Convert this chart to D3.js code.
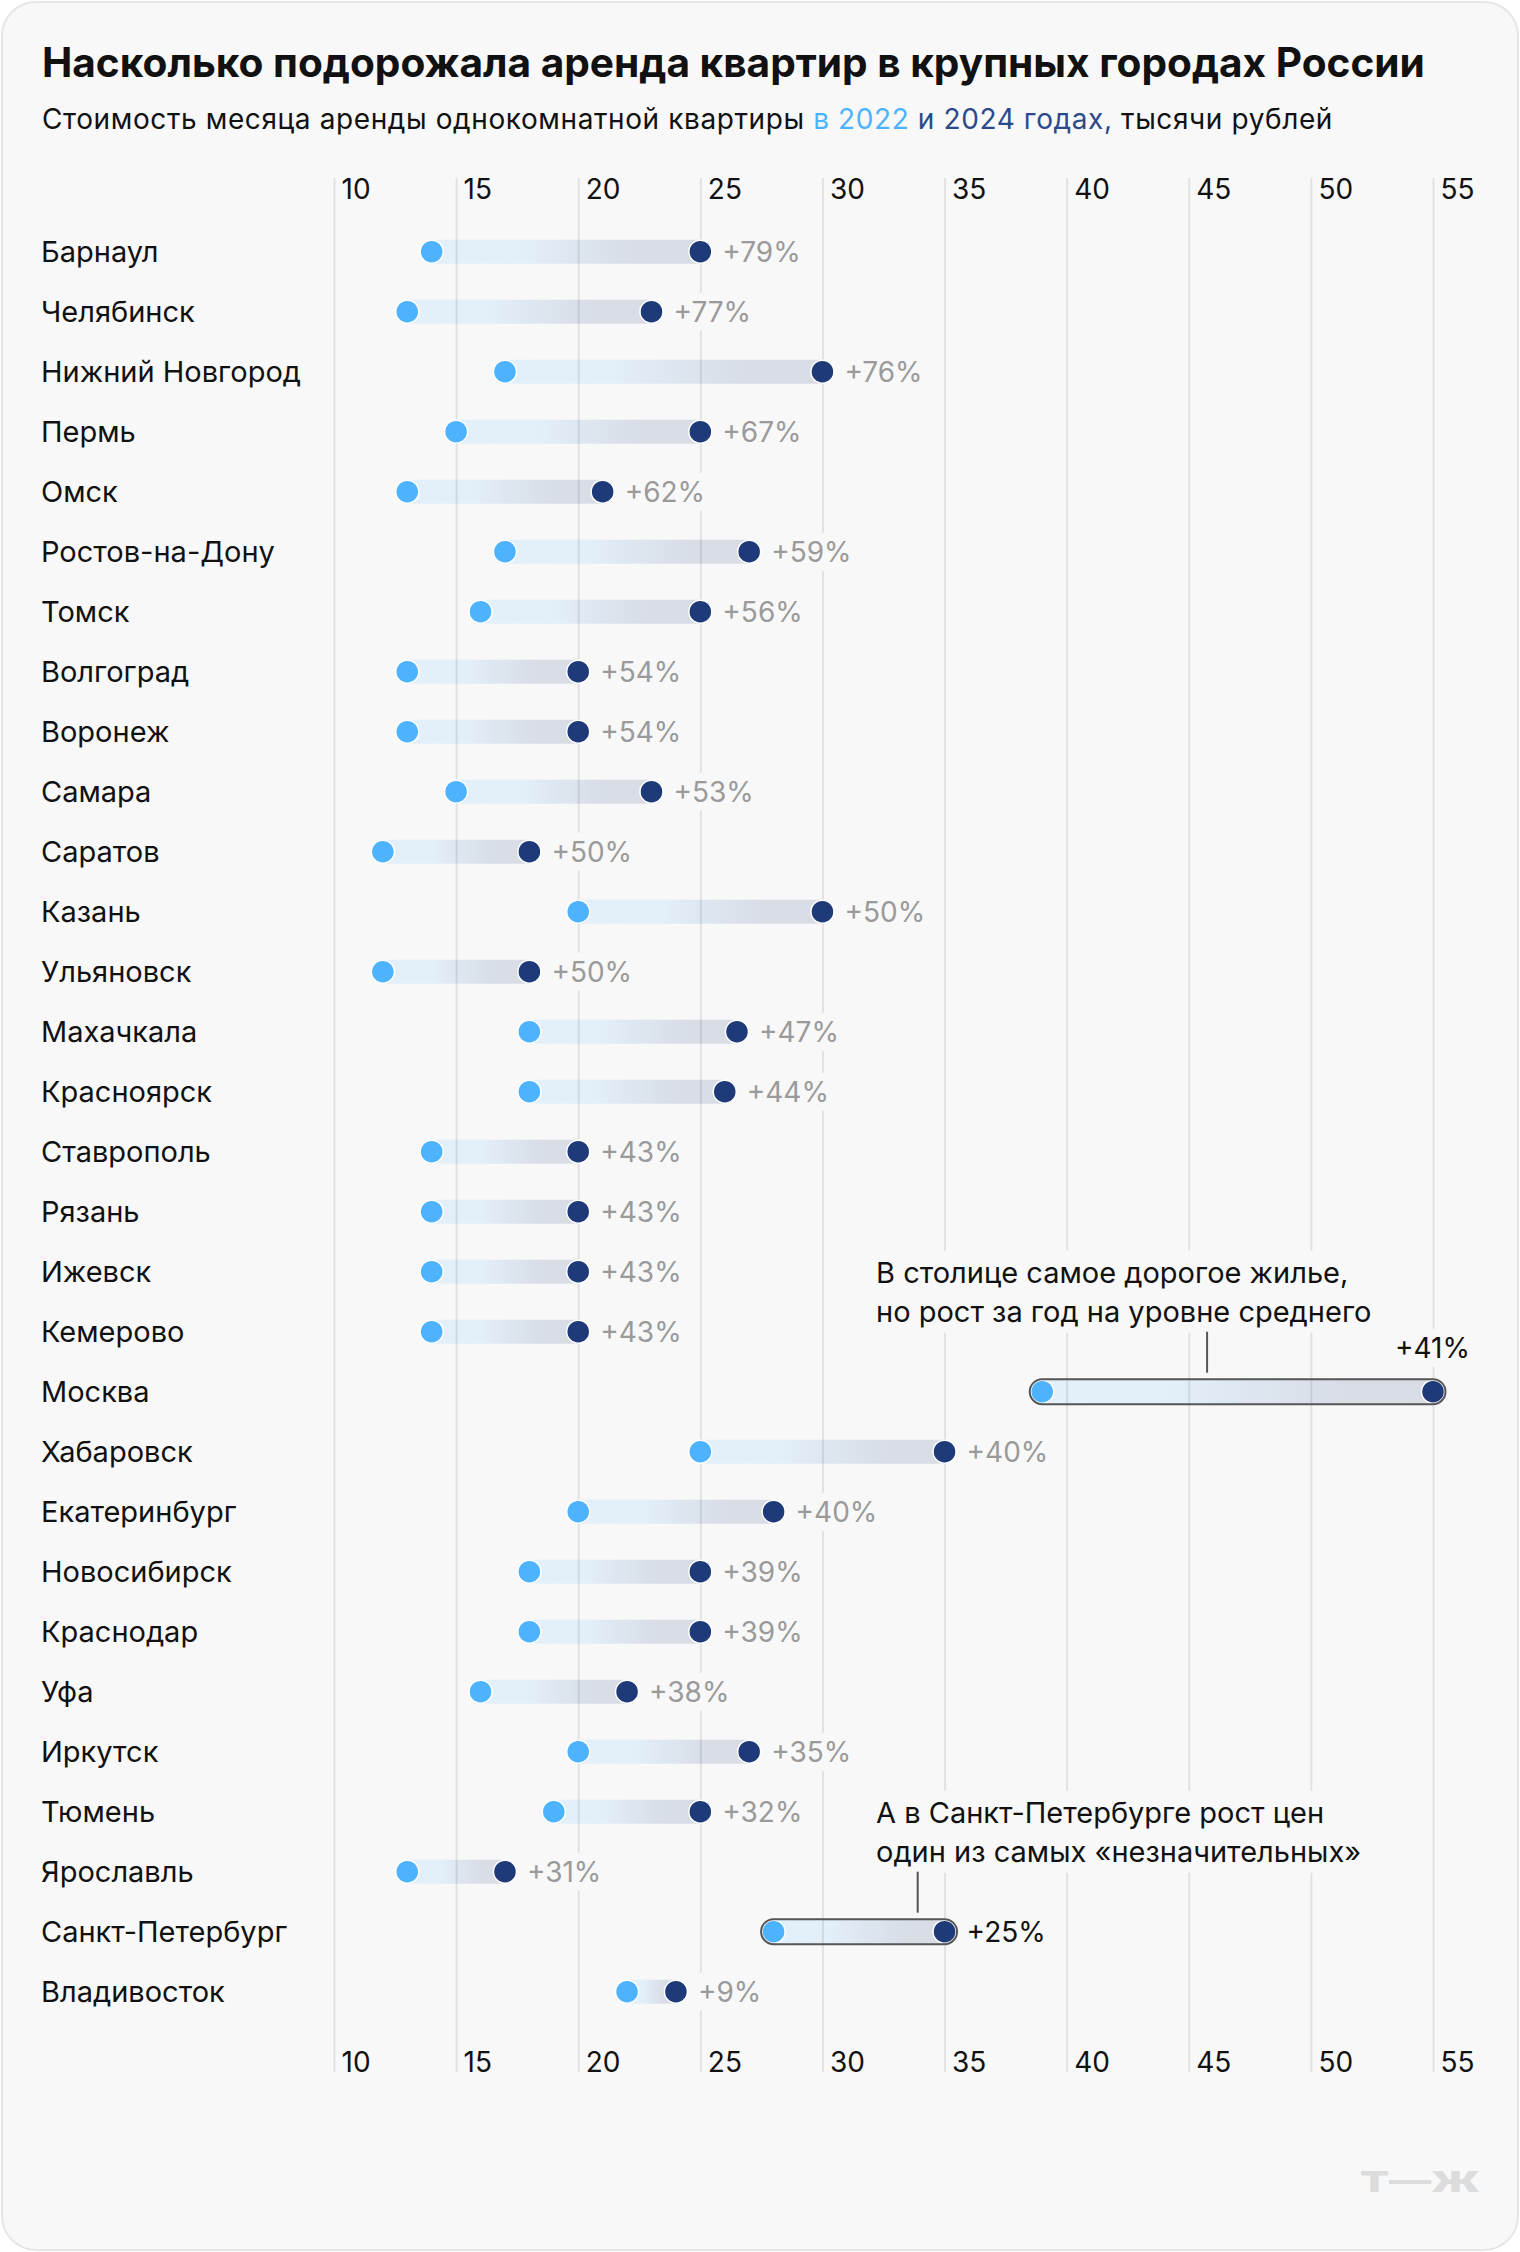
<!DOCTYPE html>
<html>
<head>
<meta charset="utf-8">
<script src="https://cdn.jsdelivr.net/npm/d3@7"></script>
<style>
  html, body { margin: 0; padding: 0; background: #ffffff; }
  svg { display: block; font-family: Inter, Roboto, "Noto Sans", sans-serif; }
</style>
</head>
<body>
<div class="svg-container"></div>
<script>
// chart data (thousand rubles per month)
const cities = ['Барнаул', 'Челябинск', 'Нижний Новгород', 'Пермь', 'Омск', 'Ростов-на-Дону', 'Томск',
  'Волгоград', 'Воронеж', 'Самара', 'Саратов', 'Казань', 'Ульяновск', 'Махачкала', 'Красноярск',
  'Ставрополь', 'Рязань', 'Ижевск', 'Кемерово', 'Москва', 'Хабаровск', 'Екатеринбург', 'Новосибирск',
  'Краснодар', 'Уфа', 'Иркутск', 'Тюмень', 'Ярославль', 'Санкт-Петербург', 'Владивосток'];
const rent2022 = [14, 13, 17, 15, 13, 17, 16, 13, 13, 15, 12, 20, 12, 18, 18, 14, 14, 14, 14, 39, 25, 20, 18, 18, 16, 20, 19, 13, 28, 22];
const rent2024 = [25, 23, 30, 25, 21, 27, 25, 20, 20, 23, 18, 30, 18, 26.5, 26, 20, 20, 20, 20, 55, 35, 28, 25, 25, 22, 27, 25, 17, 35, 24];
const growth = ['+79%', '+77%', '+76%', '+67%', '+62%', '+59%', '+56%', '+54%', '+54%', '+53%', '+50%', '+50%', '+50%',
  '+47%', '+44%', '+43%', '+43%', '+43%', '+43%', '+41%', '+40%', '+40%', '+39%', '+39%', '+38%', '+35%', '+32%',
  '+31%', '+25%', '+9%'];
const tickValues = [10, 15, 20, 25, 30, 35, 40, 45, 50, 55];
const highlighted = ['Москва', 'Санкт-Петербург'];

const title = 'Насколько подорожала аренда квартир в крупных городах России';
const notes = [
  { city: 'Москва', at: 45.75, lines: ['В столице самое дорогое жилье,', 'но рост за год на уровне среднего'] },
  { city: 'Санкт-Петербург', at: 33.9, lines: ['А в Санкт-Петербурге рост цен', 'один из самых «незначительных»'] }
];

const rows = cities.map((c, i) => ({ city: c, a: rent2022[i], b: rent2024[i], pct: growth[i], hl: highlighted.includes(c) }));

//sizes
const W = 1520, H = 2252;
const bg = '#f8f8f8';
const light = '#4db3ff', dark = '#1e3a78';
const r = 11.5;
const gridTop = 178, gridBottom = 2072;

const svg = d3.select('.svg-container').append('svg')
  .attr('width', W).attr('height', H);

const defs = svg.append('defs');
const grad = defs.append('linearGradient').attr('id', 'bar-grad');
grad.append('stop').attr('offset', '0%').attr('stop-color', '#e3f0fa');
grad.append('stop').attr('offset', '35%').attr('stop-color', '#e2eef8');
grad.append('stop').attr('offset', '75%').attr('stop-color', '#d8dde6');
grad.append('stop').attr('offset', '100%').attr('stop-color', '#d7dce5');

// card
svg.append('rect')
  .attr('x', 2).attr('y', 2).attr('width', W - 4).attr('height', H - 4)
  .attr('rx', 34)
  .attr('fill', bg).attr('stroke', '#e6e6e6').attr('stroke-width', 2);

// title + subtitle
svg.append('text')
  .attr('x', 42).attr('y', 77)
  .attr('font-size', 40.6).attr('font-weight', 700).attr('fill', '#111')
  .text(title);

const sub = svg.append('text')
  .attr('x', 42).attr('y', 129)
  .attr('font-size', 28).attr('fill', '#111')
  .attr('letter-spacing', 0.6);
sub.append('tspan').text('Стоимость месяца аренды однокомнатной квартиры ');
sub.append('tspan').attr('fill', light).text('в 2022');
sub.append('tspan').attr('fill', '#2b4a8c').text(' и 2024 годах,');
sub.append('tspan').text(' тысячи рублей');

// scales
const x = d3.scaleLinear().domain([10, 55]).range([334, 1433]);
const y = d3.scalePoint().domain(cities).range([251.7, 1991.7]);

// city names
svg.append('g').selectAll('text')
  .data(rows)
  .join('text')
  .attr('x', 41)
  .attr('y', d => y(d.city) + 10)
  .attr('font-size', 29)
  .attr('fill', '#111')
  .text(d => d.city);

// bars
const barG = svg.append('g');
barG.selectAll('.hl-bar')
  .data(rows.filter(d => d.hl))
  .join('rect')
  .attr('class', 'hl-bar')
  .attr('x', d => x(d.a) - 12.5)
  .attr('y', d => y(d.city) - 12.5)
  .attr('width', d => x(d.b) - x(d.a) + 25)
  .attr('height', 25)
  .attr('rx', 12.5)
  .attr('fill', 'url(#bar-grad)');

barG.selectAll('.bar')
  .data(rows.filter(d => !d.hl))
  .join('rect')
  .attr('class', 'bar')
  .attr('x', d => x(d.a))
  .attr('y', d => y(d.city) - 12)
  .attr('width', d => x(d.b) - x(d.a))
  .attr('height', 24)
  .attr('fill', 'url(#bar-grad)');

// grid with top tick labels
svg.append('g')
  .attr('class', 'x-axis')
  .attr('transform', `translate(0, ${gridTop})`)
  .call(d3.axisBottom(x).tickValues(tickValues).tickSize(gridBottom - gridTop).tickSizeOuter(0))
  .call(g => g.select('.domain').remove())
  .call(g => g.selectAll('line').attr('stroke', 'rgba(0,0,0,0.09)').attr('stroke-width', 2))
  .call(g => g.selectAll('text')
    .attr('y', 21).attr('x', 7).attr('dy', null)
    .attr('text-anchor', 'start')
    .attr('font-family', 'Inter, Roboto, sans-serif')
    .attr('font-size', 28).attr('fill', '#111'));

// bottom tick labels
svg.append('g')
  .attr('class', 'x-axis-bottom')
  .attr('transform', `translate(0, ${gridBottom})`)
  .call(d3.axisTop(x).tickValues(tickValues).tickSize(0))
  .call(g => g.select('.domain').remove())
  .call(g => g.selectAll('text')
    .attr('y', 0).attr('x', 7).attr('dy', null)
    .attr('text-anchor', 'start')
    .attr('font-family', 'Inter, Roboto, sans-serif')
    .attr('font-size', 28).attr('fill', '#111'));

// dots
const dotG = svg.append('g');
dotG.selectAll('.dot-a')
  .data(rows)
  .join('circle')
  .attr('class', 'dot-a')
  .attr('cx', d => x(d.a)).attr('cy', d => y(d.city)).attr('r', r)
  .attr('fill', light).attr('stroke', '#fff').attr('stroke-width', 1.5);
dotG.selectAll('.dot-b')
  .data(rows)
  .join('circle')
  .attr('class', 'dot-b')
  .attr('cx', d => x(d.b)).attr('cy', d => y(d.city)).attr('r', r)
  .attr('fill', dark).attr('stroke', '#fff').attr('stroke-width', 1.5);

// outline of the highlighted rows sits over the dots
svg.append('g').selectAll('rect')
  .data(rows.filter(d => d.hl))
  .join('rect')
  .attr('x', d => x(d.a) - 12.5)
  .attr('y', d => y(d.city) - 12.5)
  .attr('width', d => x(d.b) - x(d.a) + 25)
  .attr('height', 25)
  .attr('rx', 12.5)
  .attr('fill', 'none')
  .attr('stroke', '#555')
  .attr('stroke-width', 2);

// percent labels (with a bg box so grid lines break behind them)
const pctPos = d => d.city === 'Москва'
  ? { x: 1470, y: y(d.city) - 34, anchor: 'end' }
  : { x: x(d.b) + 22, y: y(d.city) + 10, anchor: 'start' };

const pct = svg.append('g').selectAll('g')
  .data(rows)
  .join('g');
pct.append('text')
  .attr('x', d => pctPos(d).x)
  .attr('y', d => pctPos(d).y)
  .attr('text-anchor', d => pctPos(d).anchor)
  .attr('font-size', 28)
  .attr('fill', d => d.hl ? '#111' : '#9a9a9a')
  .text(d => d.pct);
pct.each(function() {
  const b = d3.select(this).select('text').node().getBBox();
  d3.select(this).insert('rect', 'text')
    .attr('x', b.x - 4).attr('y', b.y - 2)
    .attr('width', b.width + 8).attr('height', b.height + 4)
    .attr('fill', bg);
});

// annotations
notes.forEach(n => {
  const cy = y(n.city);
  const g = svg.append('g');
  const t = g.append('text')
    .attr('font-size', 29).attr('fill', '#111');
  n.lines.forEach((l, i) => {
    t.append('tspan')
      .attr('x', 876)
      .attr('y', cy - 109 + i * 39)
      .text(l);
  });
  const b = t.node().getBBox();
  g.insert('rect', 'text')
    .attr('x', b.x - 6).attr('y', b.y - 4)
    .attr('width', b.width + 12).attr('height', b.height + 8)
    .attr('fill', bg);
  g.append('line')
    .attr('x1', x(n.at)).attr('x2', x(n.at))
    .attr('y1', cy - 60).attr('y2', cy - 19)
    .attr('stroke', '#555').attr('stroke-width', 2);
});

// logo
svg.append('text')
  .attr('x', 1360).attr('y', 2192)
  .attr('font-size', 28).attr('font-weight', 900)
  .attr('fill', '#dcdcdc')
  .attr('textLength', 120).attr('lengthAdjust', 'spacingAndGlyphs')
  .text('Т—Ж');
</script>
</body>
</html>
